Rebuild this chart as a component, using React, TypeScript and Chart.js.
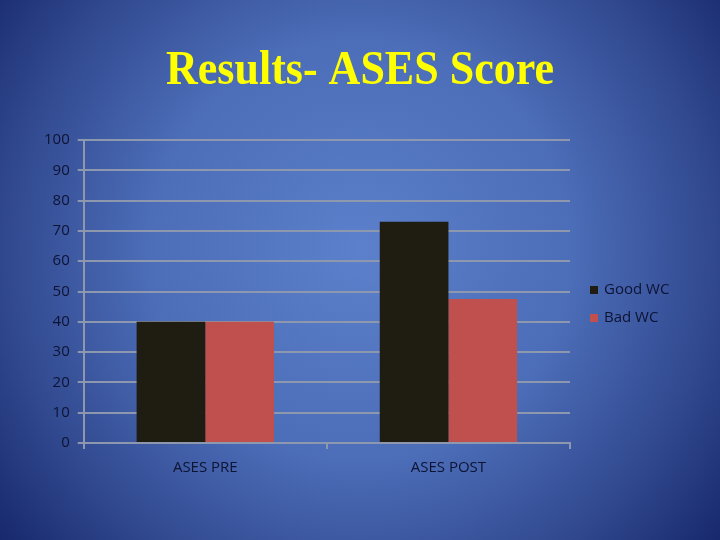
import { useEffect, useRef } from 'react';
import { Chart, registerables } from 'chart.js';

Chart.register(...registerables);

const categories = ['ASES PRE', 'ASES POST'];
const goodWC = [40, 73];
const badWC = [40, 47.5];
const seriesNames = ['Good WC', 'Bad WC'];
const titleText = 'Results- ASES Score';

const textColor = '#0d1333';
const labelFont = { family: '"Open Sans", "Liberation Sans", sans-serif', size: 15 };

const slideBackground = {
  id: 'slideBackground',
  beforeDraw(chart: Chart) {
    const { ctx, width, height } = chart;
    const g = ctx.createRadialGradient(360, 250, 0, 360, 250, 470);
    g.addColorStop(0, '#5c80cb');
    g.addColorStop(0.45, '#4c6db8');
    g.addColorStop(0.75, '#31498f');
    g.addColorStop(1, '#16266a');
    ctx.save();
    ctx.fillStyle = g;
    ctx.fillRect(0, 0, width, height);
    ctx.restore();
  },
};

// slide title, centred on the whole slide rather than on the plot
// (slightly stretched vertically, the slide was squeezed sideways)
const slideTitle = {
  id: 'slideTitle',
  afterDraw(chart: Chart) {
    const { ctx, width } = chart;
    ctx.save();
    ctx.translate(width / 2, 84);
    ctx.scale(1, 1.12);
    ctx.font = 'bold 44px "Liberation Serif", "Times New Roman", serif';
    ctx.fillStyle = '#ffff00';
    ctx.textAlign = 'center';
    ctx.textBaseline = 'alphabetic';
    ctx.fillText(titleText, 0, 0);
    ctx.restore();
  },
};

// legend drawn beside the plot, at about its middle height like the slide
const sideLegend = {
  id: 'sideLegend',
  afterDraw(chart: Chart) {
    const { ctx, chartArea } = chart;
    const x = chartArea.right + 20;
    ctx.save();
    ctx.font = `${labelFont.size}px ${labelFont.family}`;
    ctx.textBaseline = 'middle';
    chart.data.datasets.forEach((ds, i) => {
      const y = chartArea.top + 150 + i * 28;
      ctx.fillStyle = ds.backgroundColor as string;
      ctx.fillRect(x, y - 4, 8, 8);
      ctx.fillStyle = textColor;
      ctx.fillText(ds.label as string, x + 14, y);
    });
    ctx.restore();
  },
};

export default function App() {
  const canvasRef = useRef<HTMLCanvasElement>(null);

  useEffect(() => {
    if (!canvasRef.current) return;
    document.body.style.margin = '0';

    const gridColor = '#8d97ad';

    const chart = new Chart(canvasRef.current, {
      type: 'bar',
      data: {
        labels: categories,
        datasets: [
          { label: seriesNames[0], data: goodWC, backgroundColor: '#1f1c12' },
          { label: seriesNames[1], data: badWC, backgroundColor: '#c0504d' },
        ],
      },
      options: {
        responsive: false,
        animation: false,
        datasets: { bar: { categoryPercentage: 0.565, barPercentage: 1 } },
        layout: { padding: { left: 36, right: 150, top: 140, bottom: 53 } },
        plugins: {
          legend: { display: false },
          tooltip: { enabled: false },
        },
        scales: {
          x: {
            grid: { drawOnChartArea: false, drawTicks: true, tickLength: 6, color: gridColor, lineWidth: 2, offset: true },
            border: { color: gridColor, width: 2 },
            ticks: { color: textColor, font: labelFont, padding: 10 },
          },
          y: {
            min: 0,
            max: 100,
            grid: { color: gridColor, lineWidth: 2, tickLength: 6 },
            border: { color: gridColor, width: 2 },
            ticks: { stepSize: 10, color: textColor, font: labelFont, padding: 8 },
          },
        },
      },
      plugins: [slideBackground, slideTitle, sideLegend],
    });

    return () => {
      chart.destroy();
    };
  }, []);

  return <canvas ref={canvasRef} width={720} height={540} />;
}
